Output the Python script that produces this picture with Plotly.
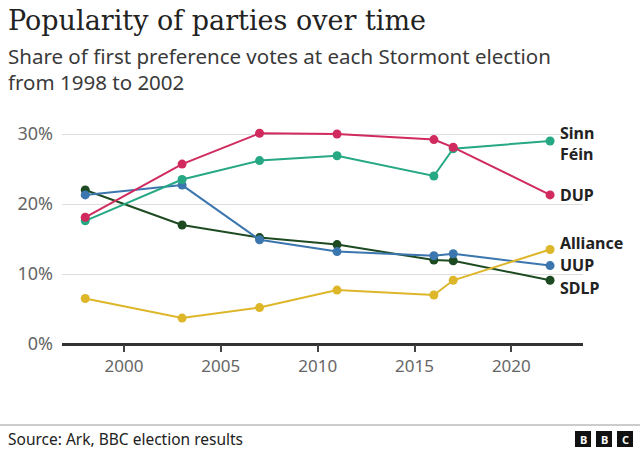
import plotly.graph_objects as go

years = [1998, 2003, 2007, 2011, 2016, 2017, 2022]
parties = ["Sinn Féin", "DUP", "Alliance", "UUP", "SDLP"]
labels = ["Sinn<br>Féin", "DUP", "Alliance", "UUP", "SDLP"]
sinn_fein = [17.6, 23.5, 26.2, 26.9, 24.0, 27.9, 29.0]
dup = [18.1, 25.7, 30.1, 30.0, 29.2, 28.1, 21.3]
alliance = [6.5, 3.7, 5.2, 7.7, 7.0, 9.1, 13.5]
uup = [21.3, 22.7, 14.9, 13.2, 12.6, 12.9, 11.2]
sdlp = [22.0, 17.0, 15.2, 14.2, 12.0, 11.9, 9.1]
series = [sinn_fein, dup, alliance, uup, sdlp]
colors = ["#26A884", "#D02A5E", "#DDB62A", "#3B76AE", "#1D4A21"]
label_y = [28.7, 21.3, 14.4, 11.3, 8.0]
y_ticks = [0, 10, 20, 30]
y_tick_text = ["0%", "10%", "20%", "30%"]
x_ticks = [2000, 2005, 2010, 2015, 2020]

W, H = 640, 450
L, R, T, B = 62, 57, 113, 106
PW, PH = W - L - R, H - T - B

def px(x):
    return (x - L) / PW

def py(y):
    return (H - B - y) / PH

fig = go.Figure()
order = [4, 3, 2, 0, 1]
for i in order:
    fig.add_trace(go.Scatter(
        x=years, y=series[i], mode="lines+markers", name=parties[i],
        line=dict(color=colors[i], width=2),
        marker=dict(color=colors[i], size=9),
        hoverinfo="skip", showlegend=False,
    ))

annotations = []
for i in range(len(parties)):
    annotations.append(dict(
        x=years[-1], y=label_y[i], xref="x", yref="y", text=labels[i],
        showarrow=False, xanchor="left", yanchor="middle", xshift=8,
        align="left",
        font=dict(family="Noto Sans", size=16, color="#222222", weight="bold"),
    ))

annotations += [
    dict(x=px(6), y=py(21), xref="paper", yref="paper", text="Popularity of parties over time",
         showarrow=False, xanchor="left", yanchor="middle",
         font=dict(family="DejaVu Serif", size=27, color="#222222")),
    dict(x=px(6), y=py(56), xref="paper", yref="paper", text="Share of first preference votes at each Stormont election",
         showarrow=False, xanchor="left", yanchor="middle",
         font=dict(family="Noto Sans", size=20.5, color="#3a3a3a")),
    dict(x=px(6), y=py(82), xref="paper", yref="paper", text="from 1998 to 2002",
         showarrow=False, xanchor="left", yanchor="middle",
         font=dict(family="Noto Sans", size=20.5, color="#3a3a3a")),
    dict(x=px(6), y=py(439), xref="paper", yref="paper", text="Source: Ark, BBC election results",
         showarrow=False, xanchor="left", yanchor="middle",
         font=dict(family="Noto Sans", size=15.5, color="#222222")),
]

shapes = [dict(type="line", xref="paper", yref="paper", x0=px(0), x1=px(W), y0=py(425), y1=py(425),
               line=dict(color="#999999", width=1))]
for k, ch in enumerate("BBC"):
    x0 = 575 + k * 21
    shapes.append(dict(type="rect", xref="paper", yref="paper", x0=px(x0), x1=px(x0 + 16),
                       y0=py(447), y1=py(431), fillcolor="#111111", line=dict(width=0)))
    annotations.append(dict(x=px(x0 + 8), y=py(439), xref="paper", yref="paper", text=ch,
                            showarrow=False, xanchor="center", yanchor="middle",
                            font=dict(family="Noto Sans", size=11, color="white", weight="bold")))

fig.update_layout(
    width=W, height=H, margin=dict(l=L, r=R, t=T, b=B),
    paper_bgcolor="white", plot_bgcolor="white",
    annotations=annotations, shapes=shapes,
    xaxis=dict(range=[1996.8, 2023.7], tickvals=x_ticks, showgrid=False, zeroline=False,
               showline=False, ticks="outside", ticklen=7, tickcolor="#444444", tickwidth=1.5,
               tickfont=dict(family="Noto Sans", size=17, color="#666666"), fixedrange=True),
    yaxis=dict(range=[0, 33], tickvals=y_ticks, ticktext=y_tick_text, showgrid=True,
               gridcolor="#dddddd", gridwidth=1, zeroline=True, zerolinecolor="#333333",
               zerolinewidth=2.5, showline=False, ticks="", ticklabelstandoff=8,
               tickfont=dict(family="Noto Sans", size=18, color="#666666"), fixedrange=True),
)

fig.write_html("out.html")
